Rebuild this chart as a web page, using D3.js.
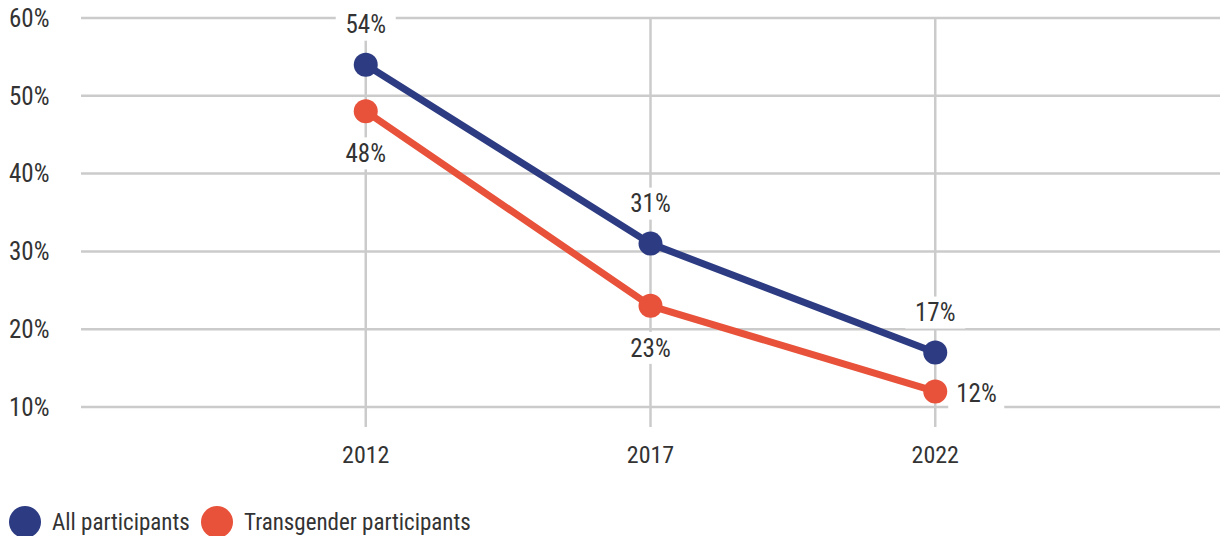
<!DOCTYPE html>
<html>
<head>
<meta charset="utf-8">
<script src="https://cdn.jsdelivr.net/npm/d3@7"></script>
<style>
  body { margin: 0; background: #fff; }
  text { font-family: "Liberation Sans Narrow", "Roboto Condensed", "Arial Narrow", sans-serif; fill: #333; }
</style>
</head>
<body>
<div id="chart"></div>
<script>

// Data

var years = [2012, 2017, 2022];
var allParticipants = [54, 31, 17];
var transParticipants = [48, 23, 12];
var yTicks = [10, 20, 30, 40, 50, 60];
var seriesNames = ["All participants", "Transgender participants"];

// Setup

var width = 1220, height = 536;
var colors = ["#2d3c82", "#e8523a"];
// where each value label sits relative to its point
var placeAll = ["above", "above", "above"];
var placeTrans = ["below", "below", "right"];

var svg = d3.select("#chart").append("svg")
    .attr("width", width)
    .attr("height", height);

var x = d3.scaleLinear()
    .domain([2007, 2027])
    .range([81, 1220]);

var y = d3.scaleLinear()
    .domain([10, 60])
    .range([407, 18]);

// Grid

svg.append("g").selectAll("line")
    .data(yTicks)
  .enter().append("line")
    .attr("x1", x(2007))
    .attr("x2", x(2027))
    .attr("y1", function(d) { return y(d); })
    .attr("y2", function(d) { return y(d); })
    .style("stroke", "#cbcbcb")
    .style("stroke-width", 2.5);

svg.append("g").selectAll("line")
    .data(years)
  .enter().append("line")
    .attr("x1", function(d) { return x(d); })
    .attr("x2", function(d) { return x(d); })
    .attr("y1", y(60))
    .attr("y2", 427)
    .style("stroke", "#cbcbcb")
    .style("stroke-width", 2.5);

// Axis labels

svg.append("g").selectAll("text")
    .data(yTicks)
  .enter().append("text")
    .attr("x", 9)
    .attr("y", function(d) { return y(d); })
    .attr("dy", "0.35em")
    .style("font-size", "25px")
    .text(function(d) { return d + "%"; });

svg.append("g").selectAll("text")
    .data(years)
  .enter().append("text")
    .attr("x", function(d) { return x(d); })
    .attr("y", 455)
    .attr("dy", "0.35em")
    .attr("text-anchor", "middle")
    .style("font-size", "24px")
    .text(function(d) { return d; });

// Value labels with white backing

var series = [
    {name: seriesNames[0], values: allParticipants, place: placeAll, color: colors[0]},
    {name: seriesNames[1], values: transParticipants, place: placeTrans, color: colors[1]}
];

var labels = [];
series.forEach(function(s) {
    s.values.forEach(function(v, i) {
        var px = x(years[i]), py = y(v);
        var lx = px, ly = py, anchor = "middle";
        if (s.place[i] === "above") ly = py - 40;
        if (s.place[i] === "below") ly = py + 42;
        if (s.place[i] === "right") { lx = px + 21; ly = py + 2; anchor = "start"; }
        labels.push({text: v + "%", x: lx, y: ly, anchor: anchor});
    });
});

var lab = svg.append("g").selectAll("g")
    .data(labels)
  .enter().append("g");

lab.append("rect")
    .attr("x", function(d) { return d.anchor === "middle" ? d.x - 30 : d.x - 8; })
    .attr("y", function(d) { return d.y - 16; })
    .attr("width", function(d) { return d.anchor === "middle" ? 60 : 56; })
    .attr("height", 32)
    .style("fill", "#fff");

lab.append("text")
    .attr("x", function(d) { return d.x; })
    .attr("y", function(d) { return d.y; })
    .attr("dy", "0.35em")
    .attr("text-anchor", function(d) { return d.anchor; })
    .style("font-size", "25px")
    .text(function(d) { return d.text; });

// Lines and points

var line = d3.line()
    .x(function(d, i) { return x(years[i]); })
    .y(function(d) { return y(d); });

series.forEach(function(s) {
    svg.append("path")
        .datum(s.values)
        .attr("d", line)
        .style("fill", "none")
        .style("stroke", s.color)
        .style("stroke-width", 7)
        .style("stroke-linejoin", "round");
});

series.forEach(function(s) {
    svg.append("g").selectAll("circle")
        .data(s.values)
      .enter().append("circle")
        .attr("cx", function(d, i) { return x(years[i]); })
        .attr("cy", function(d) { return y(d); })
        .attr("r", 12)
        .style("fill", s.color);
});

// Legend

var legendX = [25, 217];
var legend = svg.append("g").selectAll("g")
    .data(series)
  .enter().append("g")
    .attr("transform", function(d, i) { return "translate(" + legendX[i] + ",522)"; });

legend.append("circle")
    .attr("r", 16)
    .style("fill", function(d) { return d.color; });

legend.append("text")
    .attr("x", 27)
    .attr("dy", "0.35em")
    .style("font-size", "23px")
    .text(function(d) { return d.name; });

</script>
</body>
</html>
